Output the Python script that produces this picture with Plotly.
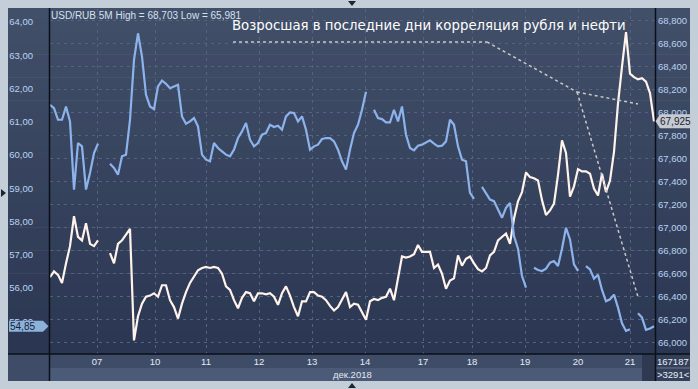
import plotly.graph_objects as go

# ---------------- data ----------------
day_labels = ["07", "10", "11", "12", "13", "14", "17", "18", "19", "20", "21"]
day_ticks = [11.75, 26.25, 39, 52.25, 65.5, 78.75, 93.25, 105.5, 118.75, 132, 145]

usd_rub = [
    66.57, 66.62, 66.59, 66.52, 66.69, 66.84, 67.10, 66.92, 66.89, 67.04,
    66.86, 66.84, 66.89, None, None, 66.78, 66.69, 66.86, 66.89, 66.94,
    66.99, 66.02, 66.23, 66.34, 66.40, 66.41, 66.43, 66.40, 66.50, 66.50,
    66.37, 66.31, 66.21, 66.34, 66.44, 66.52, 66.57, 66.63, 66.65, 66.66,
    66.65, 66.66, 66.65, 66.60, 66.49, 66.46, 66.37, 66.30, 66.39, 66.44,
    66.43, 66.36, 66.43, 66.43, 66.42, 66.43, 66.40, 66.33, 66.43, 66.49,
    66.41, 66.31, 66.23, 66.36, 66.36, 66.44, 66.44, 66.41, 66.40, 66.37,
    66.32, 66.28, 66.31, 66.38, 66.44, 66.31, 66.34, 66.33, 66.27, 66.20,
    66.36, 66.38, 66.37, 66.39, 66.40, 66.47, 66.37, 66.56, 66.75, 66.74,
    66.75, 66.77, 66.85, 66.79, 66.79, 66.79, 66.65, 66.68, 66.60, 66.47,
    66.54, 66.56, 66.76, 66.67, 66.73, 66.75, 66.69, 66.64, 66.62, 66.65,
    66.76, 66.79, 66.89, 66.92, 66.95, 66.86, 67.08, 67.23, 67.31, 67.48,
    67.44, 67.43, 67.41, 67.24, 67.11, 67.15, 67.21, 67.46, 67.76, 67.65,
    67.27, 67.36, 67.51, 67.49, 67.49, 67.47, 67.34, 67.28, 67.47, 67.31,
    67.41, 67.66, 68.08, 68.40, 68.70, 68.34, 68.31, 68.29, 68.30, 68.27,
    68.17, 67.925,
]

brent = [
    61.51, 61.41, 61.06, 61.06, 61.46, 61.01, 58.96, 60.36, 60.26, 58.96,
    59.46, 60.06, 60.34, None, None, 59.74, 59.61, 59.41, 59.96, 60.01,
    61.06, 62.86, 63.66, 62.96, 61.81, 61.46, 61.38, 62.06, 62.24, 62.14,
    62.01, 62.06, 62.11, 61.16, 60.94, 61.01, 61.11, 60.86, 60.01, 59.86,
    59.81, 60.36, 60.21, 60.11, 60.01, 59.96, 60.16, 60.51, 60.71, 60.96,
    60.46, 60.26, 60.36, 60.61, 60.66, 60.91, 60.84, 60.88, 60.76, 61.16,
    61.28, 61.26, 61.01, 61.16, 60.76, 60.16, 60.26, 60.31, 60.48, 60.51,
    60.51, 60.41, 60.16, 59.81, 59.56, 60.16, 60.66, 60.91, 61.36, 61.90,
    None, 61.36, 61.11, 61.08, 60.98, 60.98, 61.36, 61.01, 61.46, 60.61,
    60.21, 60.14, 60.28, 60.31, 60.38, 60.44, 60.34, 60.26, 60.28, 60.41,
    61.06, 60.91, 60.26, 59.86, 59.81, 58.86, 58.68, None, 59.04, 58.86,
    58.66, 58.61, 58.36, 58.11, 58.41, 58.56, 57.56, 57.18, 56.36, 56.01,
    None, 56.61, 56.54, 56.51, 56.58, 56.76, 56.81, 56.66, 57.18, 57.81,
    57.46, 56.71, 56.51, None, 56.66, 56.56, 56.28, 56.40, 55.94, 55.60,
    55.66, 55.80, 55.41, 54.94, 54.71, 54.76, None, 55.24, 55.11, 54.74,
    54.78, 54.85,
]

bars = list(range(len(usd_rub)))

usd_ticks = [66.0, 66.2, 66.4, 66.6, 66.8, 67.0, 67.2, 67.4, 67.6, 67.8,
             68.0, 68.2, 68.4, 68.6, 68.8]
brent_ticks = [55, 56, 57, 58, 59, 60, 61, 62, 63, 64]

legend_text = "USD/RUB 5M High = 68,703 Low = 65,981"
title_text = "Возросшая в последние дни корреляция рубля и нефти"
month_text = "дек.2018"
info_top, info_bottom = "167187", ">3291<"

# ---------------- styling ----------------
W, H = 698, 389
L, R, T, B = 50, 43, 9, 35
PW, PH = W - L - R, H - T - B
PAGE_BG = "#c3ced9"


def px(xp):
    return (xp - L) / PW


def py(yp):
    return (H - B - yp) / PH


GRID = "#56637f"
LBL = "#b9d3f2"
FONT = "Liberation Sans"

fig = go.Figure()
fig.add_trace(go.Scatter(x=bars, y=usd_rub, mode="lines", yaxis="y",
                         line=dict(color="#fff3ec", width=2.2),
                         connectgaps=False, hoverinfo="skip", showlegend=False))
fig.add_trace(go.Scatter(x=bars, y=brent, mode="lines", yaxis="y2",
                         line=dict(color="#8cb3ec", width=2.2),
                         connectgaps=False, hoverinfo="skip", showlegend=False))

shapes = []
# vertical gradient of the dark panel
top_c, bot_c = (66, 79, 105), (43, 55, 82)
n = 30
y_top, y_bot = 8, 354
for k in range(n):
    t = (k + 0.5) / n
    c = tuple(int(round(top_c[j] + (bot_c[j] - top_c[j]) * t)) for j in range(3))
    y0 = y_top + (y_bot - y_top) * k / n
    y1 = y_top + (y_bot - y_top) * (k + 1) / n + 0.6
    shapes.append(dict(type="rect", xref="paper", yref="paper", layer="below",
                       x0=px(8), x1=px(690), y0=py(y1), y1=py(y0),
                       fillcolor="rgb(%d,%d,%d)" % c, line=dict(width=0)))
# bottom bands
shapes.append(dict(type="rect", xref="paper", yref="paper", layer="below",
                   x0=px(8), x1=px(690), y0=py(381), y1=py(354),
                   fillcolor="#3f4c68", line=dict(width=0)))
shapes.append(dict(type="rect", xref="paper", yref="paper", layer="below",
                   x0=px(50), x1=px(642), y0=py(381), y1=py(368),
                   fillcolor="#4b5a77", line=dict(width=0)))
shapes.append(dict(type="rect", xref="paper", yref="paper", layer="below",
                   x0=px(642), x1=px(655), y0=py(381), y1=py(354),
                   fillcolor="#2f3a52", line=dict(width=0)))
shapes.append(dict(type="rect", xref="paper", yref="paper", layer="below",
                   x0=px(656), x1=px(690), y0=py(381), y1=py(354),
                   fillcolor="#34405a", line=dict(width=0)))
shapes.append(dict(type="line", xref="paper", yref="paper", layer="above",
                   x0=px(656), x1=px(690), y0=py(368), y1=py(368),
                   line=dict(color="#6b7690", width=1)))
# black frame lines
for xv in (49.5, 655.5):
    shapes.append(dict(type="line", xref="paper", yref="paper", layer="above",
                       x0=px(xv), x1=px(xv), y0=py(381), y1=py(8),
                       line=dict(color="#0b1018", width=1.5)))
shapes.append(dict(type="line", xref="paper", yref="paper", layer="above",
                   x0=px(8), x1=px(690), y0=py(354), y1=py(354),
                   line=dict(color="#0b1018", width=1.5)))
# dotted pointer lines
dot = dict(color="#c9c9c9", width=1.5, dash="dot")
for (a, b, c, d) in [(233, 42, 487, 42), (487, 42, 577, 92),
                     (577, 92, 638, 104), (577, 92, 638, 297)]:
    shapes.append(dict(type="line", xref="paper", yref="paper", layer="above",
                       x0=px(a), y0=py(b), x1=px(c), y1=py(d), line=dot))
# last-value tags
shapes.append(dict(type="path", xref="paper", yref="y2", layer="above",
                   xsizemode="pixel", ysizemode="pixel",
                   xanchor=0, yanchor=brent[-1],
                   path="M-41,5.5 L-7,5.5 L-1.5,0 L-7,-5.5 L-41,-5.5 Z",
                   fillcolor="#8db2da", line=dict(width=0)))
shapes.append(dict(type="path", xref="paper", yref="y", layer="above",
                   xsizemode="pixel", ysizemode="pixel",
                   xanchor=1, yanchor=usd_rub[-1],
                   path="M0.5,0 L5,7 L37,7 L37,-7 L5,-7 Z",
                   fillcolor="#c6cad1", line=dict(width=0)))
# frame edge markers
for (ax, ay, pth) in [(352, 3, "M-4,2 L4,2 L0,-3 Z"),
                      (3, 193, "M-2,4 L-2,-4 L3,0 Z"),
                      (352, 386, "M-4,-2 L4,-2 L0,3 Z")]:
    shapes.append(dict(type="path", xref="paper", yref="paper", layer="above",
                       xsizemode="pixel", ysizemode="pixel",
                       xanchor=px(ax), yanchor=py(ay), path=pth,
                       fillcolor="#1d2535", line=dict(width=0)))


def fmt(v, d):
    return ("%.*f" % (d, v)).replace(".", ",")


annotations = [
    dict(text=legend_text, xref="paper", yref="paper", x=px(49), y=py(15),
         xanchor="left", yanchor="middle", showarrow=False,
         font=dict(family=FONT, size=10, color="#d6e0ee")),
    dict(text=title_text, xref="paper", yref="paper", x=px(230), y=py(26),
         xanchor="left", yanchor="middle", showarrow=False,
         font=dict(family="DejaVu Sans", size=13.3, color="#ffffff")),
    dict(text=month_text, xref="paper", yref="paper", x=px(352), y=py(374.5),
         xanchor="center", yanchor="middle", showarrow=False,
         font=dict(family=FONT, size=9.5, color="#e2e8f0")),
    dict(text=info_top, xref="paper", yref="paper", x=px(673), y=py(361),
         xanchor="center", yanchor="middle", showarrow=False,
         font=dict(family=FONT, size=9.5, color="#e8eef6")),
    dict(text=info_bottom, xref="paper", yref="paper", x=px(673), y=py(374.5),
         xanchor="center", yanchor="middle", showarrow=False,
         font=dict(family=FONT, size=9.5, color="#e8eef6")),
    dict(text=fmt(brent[-1], 2), xref="paper", yref="y2", x=px(8), y=brent[-1],
         xanchor="left", yanchor="middle", showarrow=False,
         font=dict(family=FONT, size=10, color="#17233a")),
    dict(text=fmt(usd_rub[-1], 3), xref="paper", yref="y", x=px(658), y=usd_rub[-1],
         xanchor="left", yanchor="middle", showarrow=False,
         font=dict(family=FONT, size=10, color="#1a2231")),
]

fig.update_layout(
    width=W, height=H,
    margin=dict(l=L, r=R, t=T, b=B, pad=0),
    paper_bgcolor=PAGE_BG,
    plot_bgcolor="rgba(0,0,0,0)",
    separators=", ",
    showlegend=False,
    hovermode=False,
    shapes=shapes,
    annotations=annotations,
    xaxis=dict(range=[0, 151.25], tickmode="array", tickvals=day_ticks,
               ticktext=day_labels, ticks="", showline=False, zeroline=False,
               showgrid=True, gridcolor=GRID, griddash="3px,4px", gridwidth=1,
               tickfont=dict(family=FONT, size=9.5, color="#e4eaf2")),
    yaxis=dict(range=[65.902, 68.902], side="right", tickmode="array",
               tickvals=usd_ticks, tickformat=".3f", ticks="", showline=False,
               zeroline=False, showgrid=True, gridcolor=GRID,
               griddash="3px,4px", gridwidth=1, ticklabelstandoff=2,
               tickfont=dict(family=FONT, size=9.5, color=LBL)),
    yaxis2=dict(range=[54.015, 64.391], side="left", overlaying="y",
                tickmode="array", tickvals=brent_ticks, tickformat=".2f",
                ticks="", showline=False, zeroline=False, showgrid=False,
                ticklabelstandoff=16,
                tickfont=dict(family=FONT, size=9.5, color=LBL)),
)

# the page body has a default 8px margin; remove it so the figure sits at (0, 0)
page_fix = ("document.body.style.margin='0';"
            "document.body.style.background='%s';" % PAGE_BG)
fig.write_html("out.html", post_script=page_fix,
               config={"displayModeBar": False, "staticPlot": True})
